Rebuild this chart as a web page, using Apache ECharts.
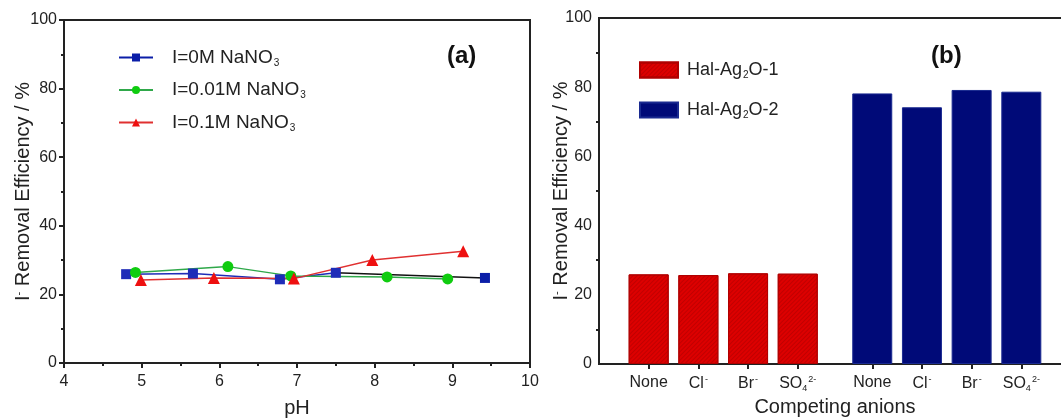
<!DOCTYPE html>
<html><head><meta charset="utf-8">
<script src="https://cdn.jsdelivr.net/npm/echarts@6/dist/echarts.min.js"></script>
<style>html,body{margin:0;padding:0;background:#fff}#c{width:1061px;height:418px}</style>
</head><body><div id="c"></div>
<script>
// ---- Panel (a) data ----
const pH0 = [4.80, 5.66, 6.78, 7.50, 9.42];
const eff0 = [25.9, 26.1, 24.4, 26.3, 24.8];
const pH001 = [4.92, 6.11, 6.92, 8.16, 8.94];
const eff001 = [26.4, 28.1, 25.4, 25.1, 24.5];
const pH01 = [4.99, 5.93, 6.96, 7.97, 9.14];
const eff01 = [24.2, 24.8, 24.6, 30.0, 32.6];
const seriesNamesA = ['I=0M NaNO3', 'I=0.01M NaNO3', 'I=0.1M NaNO3'];
const xTicksA = [4, 5, 6, 7, 8, 9, 10];
const yTicks = [0, 20, 40, 60, 80, 100];

// ---- Panel (b) data ----
const anions = ['None', 'Cl-', 'Br-', 'SO4 2-'];
const hal1 = [25.9, 25.7, 26.2, 26.1];
const hal2 = [78.2, 74.2, 79.2, 78.7];
const seriesNamesB = ['Hal-Ag2O-1', 'Hal-Ag2O-2'];

// half-unit slots for panel (b): the two groups are separated by an extra half-slot
const nSlots = 20;
function slotOf(group, i) { return 2 * (1 + i + 4.5 * group); }
const slotLabels = new Array(nSlots).fill('');
const bar1 = new Array(nSlots).fill('-');
const bar2 = new Array(nSlots).fill('-');
anions.forEach((a, i) => {
  slotLabels[slotOf(0, i)] = a; slotLabels[slotOf(1, i)] = a;
  bar1[slotOf(0, i)] = hal1[i];
  bar2[slotOf(1, i)] = hal2[i];
});

const F = 'Liberation Sans';
function anionRich(a) {
  if (a === 'None') return '{n|None}';
  if (a === 'Cl-') return '{n|Cl}{sup|-}';
  if (a === 'Br-') return '{n|Br}{sup|-}';
  if (a === 'SO4 2-') return '{n|SO}{sub|4}{sup|2-}';
  return '';
}
const richLab = {
  n: {fontSize: 16, color: '#222', fontFamily: F},
  sub: {fontSize: 9, color: '#222', fontFamily: F, padding: [9, 0, 0, 0]},
  sup: {fontSize: 9, color: '#222', fontFamily: F, padding: [0, 0, 9, 1]}
};
const richLegA = {
  g: {width: 14},
  n: {fontSize: 19, color: '#222', fontFamily: F},
  sub: {fontSize: 10, color: '#222', fontFamily: F, padding: [11, 0, 0, 1]}
};
const richLegB = {
  g: {width: 4},
  n: {fontSize: 18, color: '#222', fontFamily: F},
  sub: {fontSize: 10, color: '#222', fontFamily: F, padding: [10, 0, 0, 1]}
};
const richName = {
  n: {fontSize: 20, color: '#222', fontFamily: F},
  sup: {fontSize: 11, color: '#222', fontFamily: F, padding: [0, 0, 10, 0]}
};
const axisCol = '#222';
const yName = '{n|I}{sup|-}{n| Removal Efficiency / %}';

function yAxisCfg(gi, gap) {
  return {type: 'value', gridIndex: gi, min: yTicks[0], max: yTicks[yTicks.length - 1], interval: 20,
    name: yName, nameLocation: 'middle', nameGap: gap, nameMoveOverlap: false, nameTextStyle: {rich: richName},
    axisLine: {lineStyle: {color: axisCol, width: 2}},
    axisTick: {length: 5, lineStyle: {color: axisCol, width: 2}},
    minorTick: {show: true, splitNumber: 2, length: 3, lineStyle: {color: axisCol, width: 2}},
    axisLabel: {fontSize: 16, color: '#222', fontFamily: F, margin: 7},
    splitLine: {show: false}};
}

const chart = echarts.init(document.getElementById('c'), null, {renderer: 'canvas'});
const option = {
  backgroundColor: '#fff',
  animation: false,
  grid: [
    {left: 64, top: 20, width: 466, height: 343, show: true, borderColor: axisCol, borderWidth: 2, outerBoundsMode: 'none', containLabel: false},
    {left: 599, top: 18, width: 472, height: 346, show: true, borderColor: axisCol, borderWidth: 2, outerBoundsMode: 'none', containLabel: false}
  ],
  visualMap: {
    show: false, type: 'piecewise', seriesIndex: 0, dimension: 0,
    pieces: [{lte: 7.5, color: '#1e2cb8'}, {gt: 7.5, lt: 9.4, color: '#111'}, {gte: 9.4, color: '#0b1ea8'}]
  },
  xAxis: [
    {type: 'value', gridIndex: 0, min: xTicksA[0], max: xTicksA[xTicksA.length - 1], interval: 1,
     name: 'pH', nameLocation: 'middle', nameGap: 35,
     nameTextStyle: {fontSize: 20, color: '#222', fontFamily: F},
     axisLine: {lineStyle: {color: axisCol, width: 2}},
     axisTick: {length: 5, lineStyle: {color: axisCol, width: 2}},
     minorTick: {show: true, splitNumber: 2, length: 3, lineStyle: {color: axisCol, width: 2}},
     axisLabel: {fontSize: 16, color: '#222', fontFamily: F, margin: 11},
     splitLine: {show: false}},
    {type: 'category', gridIndex: 1, data: slotLabels, boundaryGap: false,
     name: 'Competing anions', nameLocation: 'middle', nameGap: 33,
     nameTextStyle: {fontSize: 20, color: '#222', fontFamily: F},
     axisLine: {lineStyle: {color: axisCol, width: 2}},
     axisTick: {length: 5, interval: (i) => slotLabels[i] !== '', lineStyle: {color: axisCol, width: 2}},
     axisLabel: {interval: 0, margin: 11, formatter: (v) => anionRich(v), rich: richLab},
     splitLine: {show: false}}
  ],
  yAxis: [yAxisCfg(0, 30), yAxisCfg(1, 27)],
  legend: [
    {orient: 'vertical', left: 113, top: 43, itemWidth: 34, itemHeight: 10, itemGap: 12.5,
     data: seriesNamesA,
     formatter: (n) => '{g|}{n|' + n.slice(0, -1) + '}{sub|' + n.slice(-1) + '}',
     textStyle: {rich: richLegA}},
    {orient: 'vertical', left: 634, top: 56, itemWidth: 38, itemHeight: 15, itemGap: 21,
     data: seriesNamesB.map(n => ({name: n, icon: 'rect'})),
     formatter: (n) => '{g|}{n|Hal-Ag}{sub|2}{n|O-' + n.slice(-1) + '}',
     textStyle: {rich: richLegB}}
  ],
  graphic: [
    {type: 'text', left: 447, top: 44, style: {text: '(a)', font: 'bold 24px "Liberation Sans"', fill: '#111'}},
    {type: 'text', left: 931, top: 44, style: {text: '(b)', font: 'bold 24px "Liberation Sans"', fill: '#111'}}
  ],
  series: [
    {name: seriesNamesA[0], type: 'line', xAxisIndex: 0, yAxisIndex: 0,
     data: pH0.map((x, i) => [x, eff0[i]]), symbol: 'rect', symbolSize: 10,
     itemStyle: {color: '#0b1ea8'}, lineStyle: {width: 1.5}},
    {name: seriesNamesA[1], type: 'line', xAxisIndex: 0, yAxisIndex: 0,
     data: pH001.map((x, i) => [x, eff001[i]]), symbol: 'circle', symbolSize: 11,
     itemStyle: {color: '#10cc10'}, lineStyle: {color: '#2fa84a', width: 1.5}},
    {name: seriesNamesA[2], type: 'line', xAxisIndex: 0, yAxisIndex: 0,
     data: pH01.map((x, i) => [x, eff01[i]]), symbol: 'triangle', symbolSize: 12,
     itemStyle: {color: '#ee1010'}, lineStyle: {color: '#e03030', width: 1.5}},
    {name: seriesNamesB[0], type: 'bar', xAxisIndex: 1, yAxisIndex: 1, data: bar1,
     barWidth: 40, barGap: '-100%',
     itemStyle: {color: '#dd0000', borderColor: '#b00000', borderWidth: 1,
       decal: {symbol: 'rect', symbolSize: 1, dashArrayX: [1, 0], dashArrayY: [1, 2], rotation: -Math.PI / 4, color: 'rgba(140,0,0,0.35)'}}},
    {name: seriesNamesB[1], type: 'bar', xAxisIndex: 1, yAxisIndex: 1, data: bar2,
     barWidth: 40, barGap: '-100%',
     itemStyle: {color: '#000a78', borderColor: '#1a2a90', borderWidth: 1}}
  ]
};
chart.setOption(option);
</script></body></html>
